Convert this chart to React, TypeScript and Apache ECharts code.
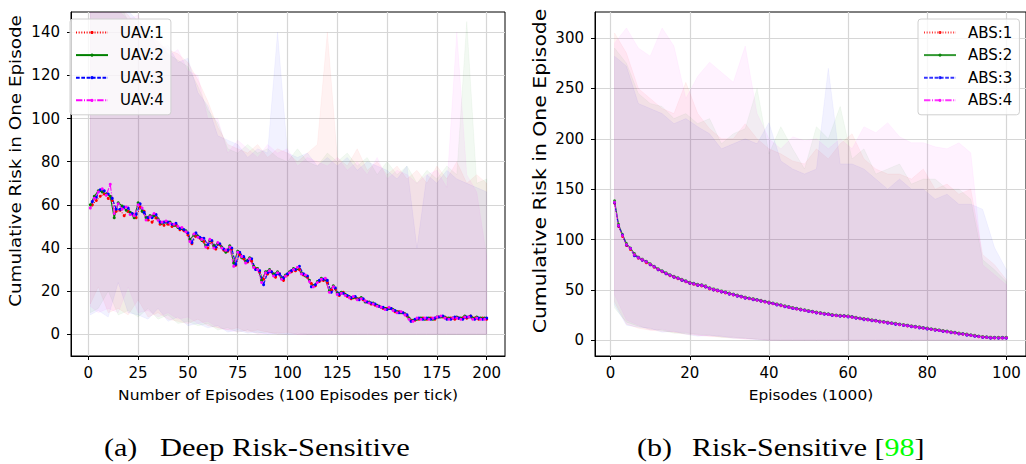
import React, { useEffect, useRef } from 'react';
import * as echarts from 'echarts';

// ---------- Left panel: Deep Risk-Sensitive ----------
const uavOddX = Array.from({ length: 100 }, (_, i) => 2 * i + 1);
const uavEvenX = Array.from({ length: 100 }, (_, i) => 2 * i + 2);

const uav1 = [
  60, 62, 64, 65, 63, 62, 57, 57.5, 55, 57,
  56, 54, 59, 57, 53, 52, 54, 51, 50.5, 51,
  50, 50.5, 48.5, 48, 46, 42, 45.5, 44.5, 43, 40,
  43, 39.5, 41.5, 39, 38.5, 39.5, 32, 37, 35, 33.5,
  34, 30.5, 29, 25.5, 28, 29, 26.5, 28, 25, 27.5,
  29, 29.5, 30, 27.5, 26.5, 23.5, 22.5, 24.5, 25, 24,
  20.5, 21, 18, 19.5, 17.5, 16.5, 17, 16.5, 16, 15,
  14, 13.5, 13, 12, 12, 12, 10.5, 10.5, 10, 8.5,
  6.5, 6.5, 7, 7.5, 7, 7.5, 7, 8, 8, 7.5,
  7.5, 7, 7.5, 7.5, 7.5, 8.5, 7.5, 7, 7.5, 7,
];
const uav2 = [
  60, 64, 66.5, 66, 65, 64, 54, 61, 59.5, 57.5,
  56.5, 54, 61, 57, 54, 55, 55, 53.5, 51.5, 52,
  52, 50.5, 49.5, 49, 48, 44, 46, 45.5, 43.5, 41,
  43.5, 41, 42, 40.5, 38, 41, 33, 38.5, 35.5, 34,
  35.5, 31.5, 30.5, 25, 29, 30, 28, 29, 26, 27.5,
  29, 30.5, 30.5, 28.5, 27, 25, 22.5, 24.5, 26, 25.5,
  20, 22.5, 19, 19.5, 18.5, 17.5, 17, 16.5, 17, 15,
  15, 14.5, 13.5, 12.5, 12, 12, 11.5, 10.5, 10, 9.5,
  7.5, 6.5, 7, 7.5, 7, 7.5, 7, 8, 8, 8,
  7.5, 7.5, 8, 7.5, 8.5, 8, 7.5, 8, 7.5, 7.5,
];
const uav3 = [
  61.5, 63.5, 67, 66.5, 65, 63, 58, 58, 59, 58.5,
  56, 55.5, 60.5, 56.5, 54, 54, 55.5, 52, 52, 52,
  51, 51.5, 49, 48.5, 47, 42.5, 47, 45, 44.5, 41.5,
  43.5, 40.5, 42, 39.5, 39, 40, 32.5, 38, 36, 34,
  35, 30, 29.5, 23, 28.5, 29, 27.5, 28, 26, 28,
  29.5, 30, 31.5, 28, 27, 22, 23, 25, 25.5, 25,
  19.5, 21.5, 18.5, 19, 18, 17, 17.5, 16, 16.5, 15,
  14.5, 14, 13, 12.5, 11.5, 12, 11, 10, 10, 9,
  6, 7, 7.5, 7, 7.5, 7, 7.5, 8, 8.5, 7,
  7, 8, 7.5, 7, 8, 8.5, 7, 7.5, 7, 7.5,
];
const uav4 = [
  58.5, 63, 66, 67.5, 64.5, 69.5, 56, 60.5, 58, 59,
  55.5, 55, 60, 58.5, 53, 54.5, 56, 53, 52, 52.5,
  51.5, 51, 50, 49.5, 47.5, 43, 46.5, 45, 44, 40.5,
  44, 40, 42.5, 40, 39, 40.5, 31.5, 38, 36, 33,
  35, 31, 30, 24, 28.5, 29.5, 27, 28.5, 25.5, 27,
  28.5, 30, 31, 28, 27.5, 24.5, 22, 24, 25.5, 26,
  19.5, 22, 18.5, 19, 18, 17, 17.5, 16, 16.5, 15.5,
  14.5, 14, 13, 12.5, 11.5, 12.5, 11, 10, 10.5, 9,
  7, 6, 7.5, 7, 7.5, 7, 7.5, 8, 8.5, 7.5,
  7, 7.5, 7.5, 7, 8, 8, 7, 7.5, 7, 7,
];

const uavBandX = [1, 5, 10, 15, 20, 25, 30, 35, 40, 45, 50, 55, 60, 65, 70, 75, 80, 85, 90, 95, 100,
  105, 110, 115, 120, 125, 130, 135, 140, 145, 150, 155, 160, 165, 170, 175, 180, 185, 190, 195, 200];
const uav1Lo = [14, 22, 10, 12, 9, 16, 8, 10, 7, 6, 5, 7, 4, 3, 2, 3, 1, 2, 1, 0.5, 1, 0, 0, 0, 0, 0, 0, 0, 0, 0, 0, 0, 0, 0, 0, 0, 0, 0, 0, 0, 0];
const uav2Lo = [10, 12, 20, 9, 11, 8, 12, 7, 9, 5, 6, 4, 5, 2, 3, 1, 2, 0.5, 1, 0, 0, 0.5, 0, 0, 0, 0, 0, 0, 0, 0, 0, 0, 0, 0, 0, 0, 0, 0, 0, 0, 0];
const uav3Lo = [9, 11, 8, 24, 10, 9, 7, 12, 6, 8, 4, 5, 3, 4, 1, 2, 0.5, 1, 0, 0.5, 0, 0, 0, 0, 0, 0, 0, 0, 0, 0, 0, 0, 0, 0, 0, 0, 0, 0, 0, 0, 0];
const uav4Lo = [13, 10, 12, 10, 22, 10, 11, 8, 10, 7, 8, 5, 6, 3, 2, 1, 2, 0, 0.5, 0, 0, 0, 0, 0, 0, 0, 0, 0, 0, 0, 0, 0, 0, 0, 0, 0, 0, 0, 0, 0, 0];
const uav1Hi = [160, 165, 158, 152, 148, 142, 140, 135, 132, 130, 126, 118, 108, 96, 88,
  86, 84, 88, 82, 86, 84, 80, 84, 88, 140, 82, 78, 86, 76, 80, 74, 78, 72, 76, 70, 78, 72, 80, 70, 74, 70];
const uav2Hi = [158, 160, 162, 155, 145, 146, 138, 136, 130, 127, 124, 115, 104, 98, 86,
  84, 88, 84, 86, 82, 80, 86, 80, 78, 84, 80, 84, 78, 82, 74, 80, 74, 78, 70, 76, 72, 78, 74, 145, 70, 72];
const uav3Hi = [162, 158, 160, 153, 150, 145, 141, 132, 134, 126, 128, 112, 106, 92, 90,
  88, 82, 86, 84, 140, 84, 82, 84, 78, 82, 78, 82, 76, 80, 78, 76, 72, 78, 40, 74, 70, 76, 72, 70, 68, 66];
const uav4Hi = [165, 162, 160, 150, 146, 148, 136, 138, 129, 132, 122, 120, 100, 100, 84,
  90, 86, 82, 88, 84, 86, 78, 82, 80, 78, 82, 76, 80, 74, 82, 72, 76, 74, 70, 74, 76, 68, 140, 74, 66, 36];

const uavXTicks = [0, 25, 50, 75, 100, 125, 150, 175, 200];
const uavYTicks = [0, 20, 40, 60, 80, 100, 120, 140];

// ---------- Right panel: Risk-Sensitive [98] ----------
const absX = Array.from({ length: 100 }, (_, i) => i + 1);
const abs1 = [
  136, 113, 103, 94, 90, 84.5, 81.5, 79.5, 77, 75,
  72.5, 70, 68, 66, 64, 62.5, 61, 59.5, 58, 56.5,
  55.5, 54.5, 54, 53, 51, 50, 49, 48, 47, 46,
  45, 44, 43, 42, 41.2, 40.5, 39.7, 38.9, 38, 37.1,
  36.2, 35.3, 34.4, 33.5, 32.6, 31.8, 31, 30.3, 29.6, 28.8,
  28.1, 27.4, 26.7, 26.1, 25.5, 24.9, 24.4, 24.1, 23.8, 23.5,
  22.8, 22.1, 21.4, 20.8, 20.3, 19.7, 19.1, 18.5, 17.9, 17.3,
  16.7, 16.1, 15.5, 14.9, 14.3, 13.7, 13.1, 12.6, 12, 11.4,
  10.8, 10.2, 9.6, 9, 8.4, 7.8, 7.2, 6.6, 6, 5.4,
  4.8, 4.2, 3.6, 3.1, 2.7, 2.4, 2.3, 2.3, 2.2, 2.3,
];
const abs2 = [
  138.5, 115, 105, 96, 91.5, 86, 82.5, 80.5, 78.5, 76,
  73.5, 71, 69, 67, 65, 63.5, 62, 60.5, 59, 57.5,
  56.5, 55.5, 55, 54, 52, 51, 50, 49, 48, 46.8,
  45.8, 44.8, 43.8, 42.8, 42, 41.3, 40.5, 39.7, 38.8, 37.9,
  37, 36.1, 35.2, 34.3, 33.4, 32.5, 31.7, 31, 30.3, 29.5,
  28.8, 28.1, 27.4, 26.8, 26.2, 25.6, 25.1, 24.8, 24.5, 24.2,
  23.5, 22.8, 22.1, 21.5, 21, 20.4, 19.8, 19.2, 18.6, 18,
  17.4, 16.8, 16.2, 15.6, 15, 14.4, 13.8, 13.3, 12.7, 12.1,
  11.5, 10.9, 10.3, 9.7, 9.1, 8.5, 7.9, 7.3, 6.7, 6.1,
  5.5, 4.9, 4.3, 3.8, 3.4, 3.1, 3, 3, 2.9, 3,
];
const abs3 = [
  136.5, 113.5, 104.5, 94.5, 91, 84, 82, 79.5, 78, 75,
  73, 70, 68.5, 66, 64.5, 62.5, 61.5, 59.5, 58.5, 56.5,
  56, 54.5, 54.5, 53, 51.5, 50, 49.5, 48, 47.5, 45.8,
  45.3, 43.8, 43.3, 41.8, 41.5, 40.3, 40, 38.7, 38.3, 36.9,
  36.5, 35.1, 34.7, 33.3, 32.9, 31.5, 31.2, 30, 29.8, 28.5,
  28.3, 27.1, 26.9, 25.8, 25.7, 24.6, 24.6, 23.8, 24, 23.2,
  23, 21.8, 21.6, 20.5, 20.5, 19.4, 19.3, 18.2, 18.1, 17,
  16.9, 15.8, 15.7, 14.6, 14.5, 13.4, 13.3, 12.3, 12.2, 11.1,
  11, 9.9, 9.8, 8.7, 8.6, 7.5, 7.4, 6.3, 6.2, 5.1,
  5, 3.9, 3.8, 2.8, 2.9, 2.1, 2.5, 2, 2.4, 2,
];
const abs4 = [
  137, 114, 104, 95, 91, 85, 82, 80, 78, 75.5,
  73, 70.5, 68.5, 66.5, 64.5, 63, 61.5, 60, 58.5, 57,
  56, 55, 54.5, 53.5, 51.5, 50.5, 49.5, 48.5, 47.5, 46.3,
  45.3, 44.3, 43.3, 42.3, 41.5, 40.8, 40, 39.2, 38.3, 37.4,
  36.5, 35.6, 34.7, 33.8, 32.9, 32, 31.2, 30.5, 29.8, 29,
  28.3, 27.6, 26.9, 26.3, 25.7, 25.1, 24.6, 24.3, 24, 23.7,
  23, 22.3, 21.6, 21, 20.5, 19.9, 19.3, 18.7, 18.1, 17.5,
  16.9, 16.3, 15.7, 15.1, 14.5, 13.9, 13.3, 12.8, 12.2, 11.6,
  11, 10.4, 9.8, 9.2, 8.6, 8, 7.4, 6.8, 6.2, 5.6,
  5, 4.4, 3.8, 3.3, 2.9, 2.6, 2.5, 2.5, 2.4, 2.5,
];

const absBandX = [1, 4, 7, 10, 13, 16, 19, 22, 25, 28, 31, 34, 37, 40, 43, 46, 49, 52, 55, 58, 61, 64, 67, 70, 73, 76, 79, 82, 85, 88, 91, 94, 97, 100];
const abs1Lo = [38, 16, 12, 10, 9, 8, 6, 5, 4, 3, 2, 1.5, 1, 0, 0, 0, 0, 0, 0, 0, 0, 0, 0, 0, 0, 0, 0, 0, 0, 0, 0, 0, 0, 0];
const abs2Lo = [32, 18, 14, 11, 10, 7, 7, 6, 5, 3, 3, 2, 1, 0.5, 0, 0, 0, 0, 0, 0, 0, 0, 0, 0, 0, 0, 0, 0, 0, 0, 0, 0, 0, 0];
const abs3Lo = [35, 15, 13, 12, 8, 9, 6, 4, 5, 4, 2, 2, 0.5, 0, 0, 0, 0, 0, 0, 0, 0, 0, 0, 0, 0, 0, 0, 0, 0, 0, 0, 0, 0, 0];
const abs4Lo = [45, 20, 15, 10, 11, 8, 8, 5, 4, 4, 3, 1, 1, 0, 0, 0, 0, 0, 0, 0, 0, 0, 0, 0, 0, 0, 0, 0, 0, 0, 0, 0, 0, 0];
const abs1Hi = [305, 285, 250, 240, 230, 225, 256, 225, 210, 200, 200, 215, 200, 190, 185, 178, 175, 190, 180, 195, 205, 180, 170, 165, 165, 160, 170, 150, 155, 145, 150, 85, 75, 60];
const abs2Hi = [290, 275, 245, 235, 232, 220, 225, 215, 220, 195, 205, 210, 250, 185, 212, 190, 170, 212, 200, 232, 180, 190, 165, 170, 175, 155, 160, 160, 150, 150, 140, 80, 70, 58];
const abs3Hi = [282, 272, 235, 230, 225, 215, 220, 212, 205, 190, 195, 200, 195, 216, 178, 170, 165, 170, 270, 175, 175, 170, 160, 150, 160, 150, 150, 140, 145, 135, 135, 130, 92, 70];
const abs4Hi = [295, 310, 290, 282, 310, 292, 240, 262, 276, 266, 256, 292, 225, 200, 190, 202, 198, 200, 190, 200, 190, 212, 206, 216, 202, 196, 196, 192, 190, 196, 186, 75, 65, 55];

const absXTicks = [0, 20, 40, 60, 80, 100];
const absYTicks = [0, 50, 100, 150, 200, 250, 300];

const uavNames = ['UAV:1', 'UAV:2', 'UAV:3', 'UAV:4'];
const absNames = ['ABS:1', 'ABS:2', 'ABS:3', 'ABS:4'];

const COLORS = ['#ff0000', '#008000', '#0000ff', '#ff00ff'];
const RGB = ['255,0,0', '0,128,0', '0,0,255', '255,0,255'];
const DASHES: any[] = [[1, 1.65], 'solid', [3.7, 1.6], [6.4, 1.6, 1, 1.6]];

const FONT = 'DejaVu Sans';
const SERIF = 'Liberation Serif';

function lineSeries(name: string, xs: number[], ys: number[], k: number, axis: number, opacity: number) {
  return {
    type: 'line',
    name,
    xAxisIndex: axis,
    yAxisIndex: axis,
    data: xs.map((x, i) => [x, ys[i]]),
    symbol: 'circle',
    symbolSize: 3,
    showSymbol: true,
    lineStyle: { color: COLORS[k], width: 1.1, type: DASHES[k], opacity },
    itemStyle: { color: COLORS[k], opacity },
    silent: true,
    z: 3,
  };
}

function bandSeries(xs: number[], lo: number[], hi: number[], k: number, axis: number) {
  return {
    type: 'custom',
    xAxisIndex: axis,
    yAxisIndex: axis,
    silent: true,
    z: 1,
    data: [[xs[0], lo[0]]],
    renderItem: (params: any, api: any) => {
      const pts: number[][] = [];
      for (let i = 0; i < xs.length; i++) pts.push(api.coord([xs[i], hi[i]]));
      for (let i = xs.length - 1; i >= 0; i--) pts.push(api.coord([xs[i], lo[i]]));
      const cs = params.coordSys;
      return {
        type: 'polygon',
        shape: { points: pts },
        style: { fill: `rgba(${RGB[k]},0.05)`, stroke: `rgba(${RGB[k]},0.04)`, lineWidth: 1 },
        clipPath: { type: 'rect', shape: { x: cs.x, y: cs.y, width: cs.width, height: cs.height } },
      };
    },
  };
}

function xAxisCfg(grid: number, min: number, max: number, ticks: number[]) {
  return {
    type: 'value', gridIndex: grid, min, max,
    axisLine: { show: true, onZero: false, lineStyle: { color: '#000', width: 1 } },
    axisTick: { show: true, length: 4, customValues: ticks, lineStyle: { color: '#000', width: 1 } },
    axisLabel: { customValues: ticks, fontSize: 15, color: '#000', margin: 9, fontFamily: FONT },
    splitLine: { show: true, lineStyle: { color: '#d6d6d6', width: 1.2 } },
  };
}
function yAxisCfg(grid: number, min: number, max: number, ticks: number[]) {
  return {
    type: 'value', gridIndex: grid, min, max,
    axisLine: { show: true, onZero: false, lineStyle: { color: '#000', width: 1 } },
    axisTick: { show: true, length: 4, customValues: ticks, lineStyle: { color: '#000', width: 1 } },
    axisLabel: { customValues: ticks, fontSize: 15, color: '#000', margin: 11, fontFamily: FONT },
    splitLine: { show: true, lineStyle: { color: '#d6d6d6', width: 1.2 } },
  };
}

function legendCfg(names: string[], left: number, top: number) {
  return {
    data: names,
    orient: 'vertical',
    left, top,
    itemWidth: 32,
    itemHeight: 4,
    itemGap: 7.6,
    padding: [6, 7, 7, 5],
    backgroundColor: 'rgba(255,255,255,0.8)',
    borderColor: '#d0d0d0',
    borderWidth: 1,
    borderRadius: 3,
    selectedMode: false,
    textStyle: { fontSize: 15, color: '#000', fontFamily: FONT, lineHeight: 15, padding: [0, 0, 0, 7] },
  };
}

function txt(text: string, x: number, y: number, fontSize: number, family: string, align: string, scaleX: number, rotation = 0, rich?: any) {
  return {
    type: 'text', x, y, rotation, scaleX, silent: true,
    style: { text, fontSize, fontFamily: family, fill: '#000', textAlign: align, textVerticalAlign: 'middle', rich },
  };
}

export default function App() {
  const ref = useRef<HTMLDivElement>(null);
  useEffect(() => {
    if (!ref.current) return;
    const chart = echarts.init(ref.current, undefined, { renderer: 'svg' });

    const uavMeans = [uav1, uav2, uav3, uav4];
    const uavXs = [uavEvenX, uavOddX, uavEvenX, uavOddX];
    const uavLo = [uav1Lo, uav2Lo, uav3Lo, uav4Lo];
    const uavHi = [uav1Hi, uav2Hi, uav3Hi, uav4Hi];
    const absMeans = [abs1, abs2, abs3, abs4];
    const absLo = [abs1Lo, abs2Lo, abs3Lo, abs4Lo];
    const absHi = [abs1Hi, abs2Hi, abs3Hi, abs4Hi];

    const series: any[] = [];
    for (let k = 0; k < 4; k++) series.push(bandSeries(uavBandX, uavLo[k], uavHi[k], k, 0));
    for (let k = 0; k < 4; k++) series.push(bandSeries(absBandX, absLo[k], absHi[k], k, 1));
    for (let k = 0; k < 4; k++) series.push(lineSeries(uavNames[k], uavXs[k], uavMeans[k], k, 0, 1));
    for (let k = 0; k < 4; k++) series.push(lineSeries(absNames[k], absX, absMeans[k], k, 1, 0.8));

    const option: any = {
      animation: false,
      textStyle: { fontFamily: FONT },
      grid: [
        { left: 71, top: 12, width: 434, height: 344, show: true, borderColor: '#000', borderWidth: 1, backgroundColor: 'transparent' },
        { left: 595, top: 12, width: 433, height: 344, show: true, borderColor: '#000', borderWidth: 1, backgroundColor: 'transparent' },
      ],
      xAxis: [xAxisCfg(0, -8.7, 209.2, uavXTicks), xAxisCfg(1, -3.95, 104.95, absXTicks)],
      yAxis: [yAxisCfg(0, -10.06, 149.4, uavYTicks), yAxisCfg(1, -15.6, 325.8, absYTicks)],
      legend: [legendCfg(uavNames, 70, 19), legendCfg(absNames, 918, 19)],
      series,
      graphic: [
        txt('Cumulative Risk in One Episode', 15, 161, 16, FONT, 'center', 1.146, Math.PI / 2),
        txt('Cumulative Risk in One Episode', 540, 171, 17, FONT, 'center', 1.2, Math.PI / 2),
        txt('Number of Episodes (100 Episodes per tick)', 288, 395, 14.5, FONT, 'center', 1.07),
        txt('Episodes (1000)', 811, 395, 14.5, FONT, 'center', 1.06),
        txt('(a)', 104, 447.5, 25, SERIF, 'left', 1.2),
        txt('Deep Risk-Sensitive', 160, 447.5, 25, SERIF, 'left', 1.22),
        txt('(b)', 637, 447.5, 25, SERIF, 'left', 1.2),
        txt('Risk-Sensitive [{g|98}]', 692, 447.5, 25, SERIF, 'left', 1.2, 0,
          { g: { fill: '#00ff00', fontSize: 25, fontFamily: SERIF } }),
      ],
    };
    chart.setOption(option);
    return () => chart.dispose();
  }, []);
  return <div ref={ref} style={{ position: 'absolute', left: 0, top: 0, width: 1026, height: 464 }} />;
}
